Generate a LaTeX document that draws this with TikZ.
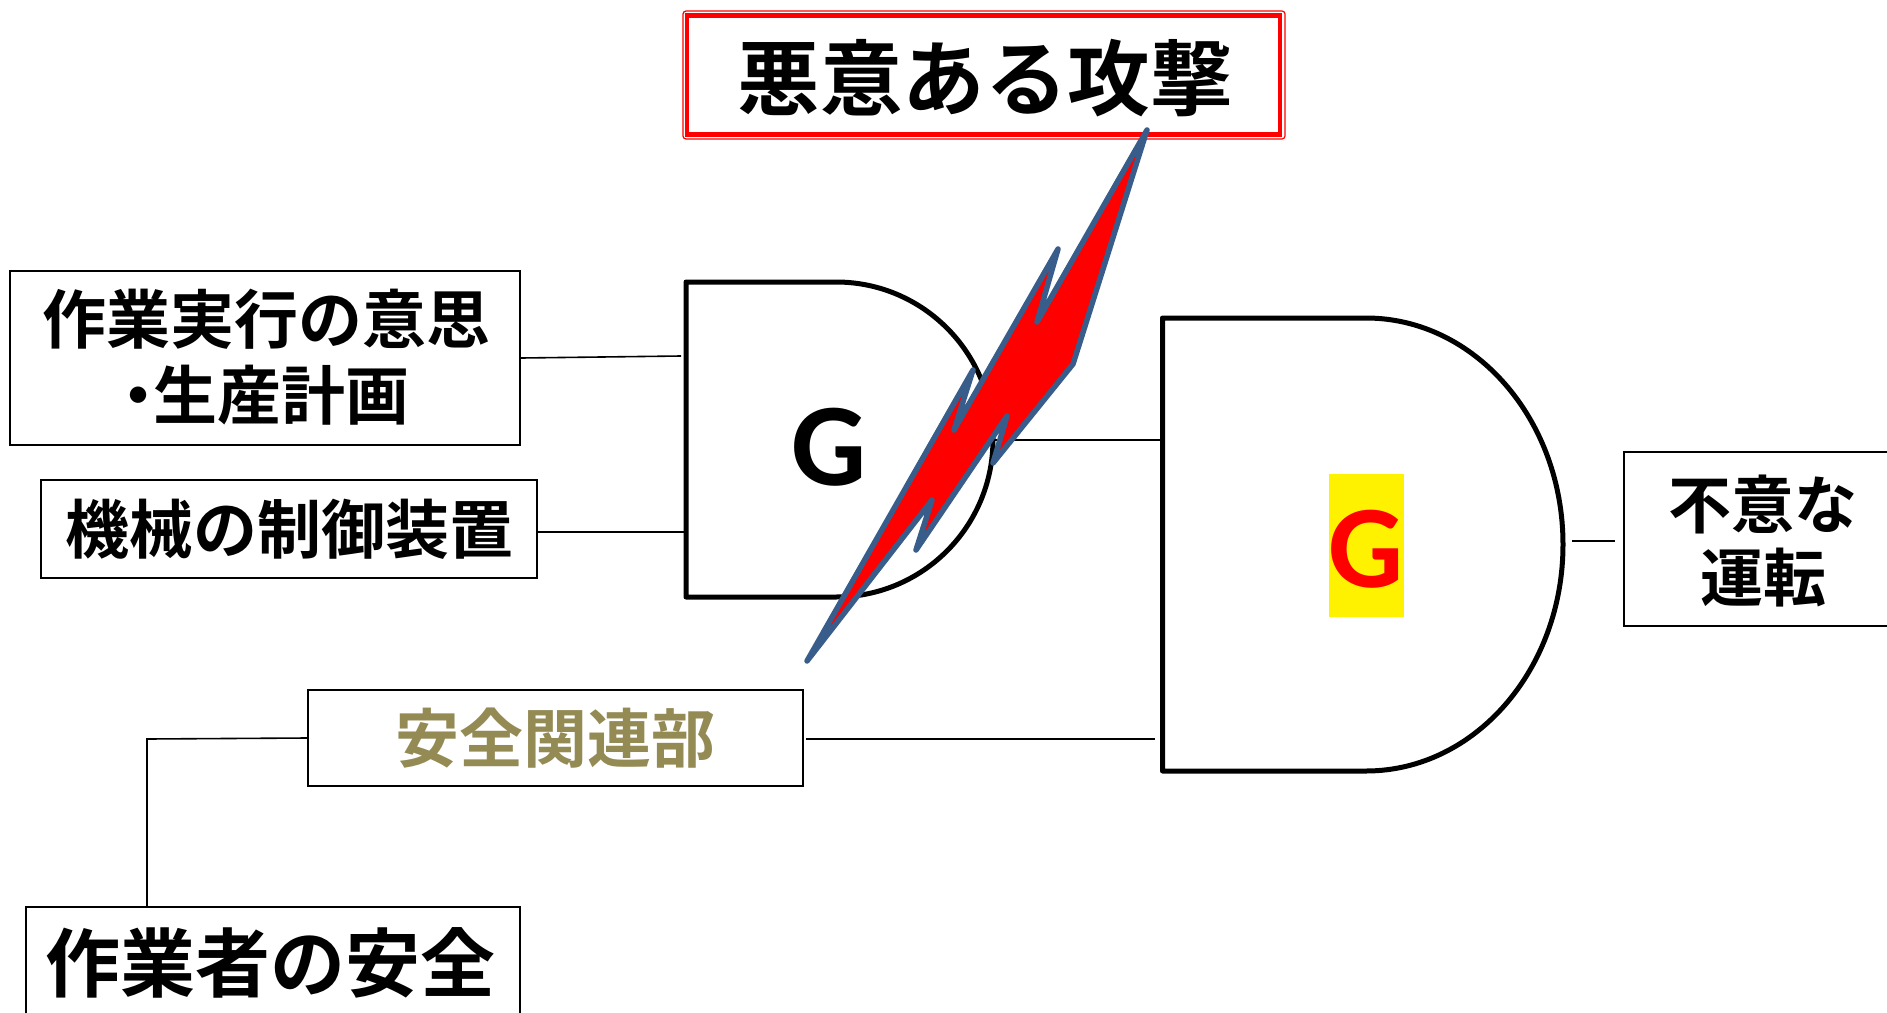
\documentclass[tikz,border=0pt]{standalone}
\usepackage{fontspec}
\setmainfont{Noto Sans CJK JP}[BoldFont={Noto Sans CJK JP Bold}]
\setsansfont{Carlito}
\usetikzlibrary{calc}
\definecolor{bolt}{RGB}{56,93,138}
\definecolor{olive}{RGB}{148,138,84}
\newcommand{\fs}[1]{\fontsize{#1}{#1}\selectfont\bfseries}
\tikzset{
  x=1pt,y=-1pt,
  box/.style={draw=black,line width=2.2pt,fill=white,inner sep=0pt,align=center},
  lbl/.style={inner sep=0pt,align=center},
  wire/.style={draw=black,line width=1.6pt},
  gate/.style={draw=black,line width=5pt,line join=round},
  gatelabel/.style={inner sep=0pt,font=\sffamily\bfseries\fontsize{118}{118}\selectfont},
  boltshape/.style={fill=red,draw=bolt,line width=5.5pt,line join=round,line cap=round},
}
\begin{document}
\begin{tikzpicture}
\clip (0,0) rectangle (1887,1012);
\fill[white] (0,0) rectangle (1887,1012);

% boxes
\node[box,minimum width=510pt,minimum height=174pt] (intent) at (265,358) {};
\node[lbl,font=\fs{64},anchor=center] (intenttext) at (266,357)
  {作業実行の意思\\[12pt]\kern-6pt・\kern-17pt生産計画\kern10pt};
\node[box,minimum width=496pt,minimum height=98pt,font=\fs{64}] (control) at (289,529) {機械の制御装置};
\node[box,minimum width=495pt,minimum height=96pt,text=olive,font=\fs{64}] (safety) at (555.5,738) {安全関連部};
\node[box,minimum width=494pt,minimum height=174pt,anchor=north] (worker) at (273,906) {};
\node[lbl,font=\fs{75}] (workertext) at (270.5,963) {作業者の安全};
\node[box,minimum width=270pt,minimum height=174pt,anchor=west] (unintended) at (1623,539) {};
\node[lbl,font=\fs{63}] (unintendedtext) at (1763,541) {不意な\\[10pt]運転};

% attack box
\draw[red,line width=1.2pt,rounded corners=3pt] (683,11) rectangle (1285,139);
\node[draw=red,line width=4.8pt,fill=white,inner sep=0pt,minimum width=593pt,minimum height=119pt] (attack) at (983.5,75) {};
\node[lbl,font=\fs{82.5}] (attacktext) at (985,78) {悪意ある攻撃};

% gates
\path[gate,fill=white] (686,282) -- (836,282) .. controls (922.7,282) and (993,352.5) .. (993,439.5)
  .. controls (993,526.5) and (922.7,597) .. (836,597) -- (686,597) -- cycle;
\path[gate,fill=white] (1162.5,318) -- (1366,318) .. controls (1474.8,318) and (1563,419.5) .. (1563,544.5)
  .. controls (1563,669.5) and (1474.8,771) .. (1366,771) -- (1162.5,771) -- cycle;
\node[gatelabel] (g1) at (829,447) {G};
\node[fill=yellow,minimum width=75pt,minimum height=143pt,inner sep=0pt] (yel) at (1366.5,545.5) {};
\node[gatelabel,text=red] (g2) at (1366,549) {G};

% connector ends
\coordinate (g1a) at (681,356);
\coordinate (g1b) at (684,532);
\coordinate (g1out) at (993,440);
\coordinate (g2a) at (1162,440);
\coordinate (g2b) at (1155,739);
\coordinate (g2out) at (1572,541);
\coordinate (unin) at (1615,541);
\coordinate (s2) at (806,739);
\coordinate (bend) at (147,739);

\draw[wire] (intent.east) -- (g1a);
\draw[wire] (control.east |- g1b) -- (g1b);
\draw[wire] (g1out) -- (g2a);
\draw[wire] (s2) -- (g2b);
\draw[wire] (g2out) -- (unin);
\draw[wire] (safety.west) -- (bend) -- (bend |- worker.north);

% lightning bolt
\path[boltshape] (1147,130) -- (1073,364) -- (993,463) -- (1007,416) -- (916,550) -- (932,500) -- (807,661)
  -- (973,370) -- (954,430) -- (1058,249) -- (1037,322) -- cycle;
\end{tikzpicture}
\end{document}
